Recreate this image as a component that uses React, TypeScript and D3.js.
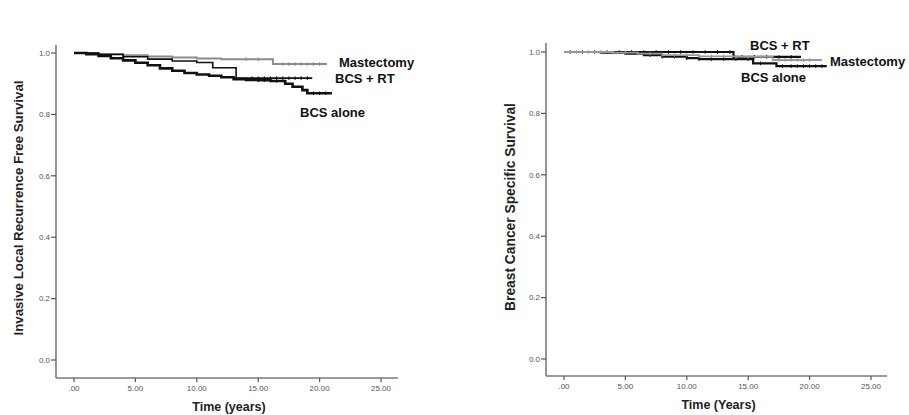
import React from "react";
import * as d3 from "d3";

// ---- Data ----
const xTicks = [0, 5, 10, 15, 20, 25];
const yTicks = [0, 0.2, 0.4, 0.6, 0.8, 1.0];

// Left panel: Invasive local recurrence free survival
const leftMastectomy: [number, number][] = [
  [0, 1], [2, 0.997], [4, 0.993], [6, 0.989], [8, 0.985], [10, 0.982], [12, 0.98], [16.2, 0.964], [20.6, 0.964],
];
const leftBcsRt: [number, number][] = [
  [0, 1], [2, 0.995], [4, 0.988], [6, 0.98], [8, 0.974], [10, 0.969], [11.3, 0.952], [13.2, 0.918], [19.4, 0.918],
];
const leftBcsAlone: [number, number][] = [
  [0, 1], [1, 0.996], [2, 0.99], [3, 0.983], [4, 0.976], [5, 0.968], [6, 0.96], [7, 0.95], [8, 0.942],
  [9, 0.935], [10, 0.93], [11, 0.926], [12, 0.921], [13, 0.915], [14, 0.912], [15, 0.911], [16, 0.909],
  [17.2, 0.9], [17.8, 0.89], [18.6, 0.879], [19, 0.869], [21, 0.869],
];
const leftCensorMast = [14, 15, 17, 17.5, 18, 18.5, 19, 19.5, 20];
const leftCensorRt = [14.5, 15, 15.5, 16, 16.5, 17, 17.5, 18, 18.5, 19];
const leftCensorAlone = [15, 15.5, 16.5, 19.5, 20, 20.5];

// Right panel: Breast cancer specific survival
const rightMastectomy: [number, number][] = [
  [0, 1], [4, 0.998], [6, 0.995], [8, 0.99], [11, 0.986], [14, 0.984], [17, 0.974], [21, 0.974],
];
const rightBcsRt: [number, number][] = [
  [0, 1], [13.8, 0.984], [19.3, 0.984],
];
const rightBcsAlone: [number, number][] = [
  [0, 1], [3, 0.998], [5, 0.995], [6.5, 0.99], [8, 0.985], [10, 0.98], [11, 0.977], [15.4, 0.963], [17.3, 0.954], [21.4, 0.954],
];
const rightCensorMast = [1, 2, 3, 4, 5, 6, 7, 8, 9, 10, 11, 12, 13, 14, 15, 16, 17.5, 18, 18.5, 19, 19.5, 20];
const rightCensorRt = [0.5, 1.5, 2.5, 3.5, 4.5, 5.5, 6.5, 7.5, 8.5, 9.5, 10.5, 11.5, 12.5, 13.5, 14.5, 15.5, 16.5, 17.5, 18.5];
const rightCensorAlone = [7, 8, 9, 10, 11, 12, 13, 14, 15, 16, 17.8, 18.5, 19, 19.5, 20, 20.5, 21];

const FONT = "'Liberation Sans', Arial, Helvetica, sans-serif";

type Series = {
  name: string;
  data: [number, number][];
  censor: number[];
  color: string;
  width: number;
};

type Label = { text: string; x: number; y: number };

type PanelProps = {
  x0: number;
  x25: number;
  yTop: number;
  yBottom: number;
  axisX: number;
  axisY: number;
  axisRight: number;
  axisTop: number;
  series: Series[];
  labels: Label[];
  xTitle: string;
  yTitle: string;
  yTitleX: number;
  yTitleY: number;
  yTitleSize: number;
};

function stepValue(data: [number, number][], t: number) {
  let v = data[0][1];
  for (const [tt, vv] of data) {
    if (tt <= t) v = vv;
  }
  return v;
}

function Panel(p: PanelProps) {
  const x = d3.scaleLinear().domain([0, 25]).range([p.x0, p.x25]);
  const y = d3.scaleLinear().domain([0, 1]).range([p.yBottom, p.yTop]);
  const line = d3
    .line<[number, number]>()
    .x((d) => x(d[0]))
    .y((d) => y(d[1]))
    .curve(d3.curveStepAfter);
  const axisColor = "#7a7a7a";
  return (
    <g>
      <line x1={p.axisX} x2={p.axisX} y1={p.axisTop} y2={p.axisY} stroke={axisColor} strokeWidth={1.6} />
      <line x1={p.axisX} x2={p.axisRight} y1={p.axisY} y2={p.axisY} stroke={axisColor} strokeWidth={1.6} />
      {yTicks.map((t) => (
        <g key={"y" + t}>
          <line x1={p.axisX - 5} x2={p.axisX} y1={y(t)} y2={y(t)} stroke="#555" strokeWidth={1.2} />
          <text x={p.axisX - 6} y={y(t)} dy="0.35em" textAnchor="end" fontSize={8} fill="#555" fontFamily={FONT}>
            {t.toFixed(1)}
          </text>
        </g>
      ))}
      {xTicks.map((t) => (
        <g key={"x" + t}>
          <line x1={x(t)} x2={x(t)} y1={p.axisY} y2={p.axisY + 4} stroke="#555" strokeWidth={1.2} />
          <text x={x(t)} y={p.axisY + 13} textAnchor="middle" fontSize={8} fill="#555" fontFamily={FONT}>
            {t === 0 ? ".00" : t.toFixed(2)}
          </text>
        </g>
      ))}
      <text
        x={(p.axisX + p.axisRight) / 2 + 2}
        y={p.axisY + 33}
        textAnchor="middle"
        fontSize={12.5}
        fontWeight="bold"
        fill="#222"
        fontFamily={FONT}
      >
        {p.xTitle}
      </text>
      <text
        transform={`translate(${p.yTitleX},${p.yTitleY}) rotate(-90)`}
        textAnchor="middle"
        fontSize={p.yTitleSize}
        fontWeight="bold"
        fill="#222"
        fontFamily={FONT}
      >
        {p.yTitle}
      </text>
      {p.series.map((s) => (
        <g key={s.name}>
          <path d={line(s.data) || ""} fill="none" stroke={s.color} strokeWidth={s.width} />
          {s.censor.map((c, i) => {
            const v = stepValue(s.data, c);
            return (
              <line
                key={i}
                x1={x(c)}
                x2={x(c)}
                y1={y(v) - 1.8}
                y2={y(v) + 1.8}
                stroke={s.color}
                strokeWidth={1}
              />
            );
          })}
        </g>
      ))}
      {p.labels.map((l) => (
        <text
          key={l.text}
          x={l.x}
          y={l.y}
          dy="0.35em"
          fontSize={13}
          fontWeight="bold"
          fill="#111"
          fontFamily={FONT}
        >
          {l.text}
        </text>
      ))}
    </g>
  );
}

export default function App() {
  const leftSeries: Series[] = [
    { name: "Mastectomy", data: leftMastectomy, censor: leftCensorMast, color: "#8c8c8c", width: 2 },
    { name: "BCS alone", data: leftBcsAlone, censor: leftCensorAlone, color: "#111", width: 2.6 },
    { name: "BCS + RT", data: leftBcsRt, censor: leftCensorRt, color: "#111", width: 1.6 },
  ];
  const rightSeries: Series[] = [
    { name: "BCS alone", data: rightBcsAlone, censor: rightCensorAlone, color: "#111", width: 2.2 },
    { name: "BCS + RT", data: rightBcsRt, censor: rightCensorRt, color: "#111", width: 2.2 },
    { name: "Mastectomy", data: rightMastectomy, censor: rightCensorMast, color: "#9a9a9a", width: 1.8 },
  ];
  return (
    <svg
      width={909}
      height={415}
      style={{ position: "absolute", left: 0, top: 0, background: "#fff" }}
    >
      <rect width={909} height={415} fill="#fff" />
      <Panel
        x0={74}
        x25={381}
        yTop={53}
        yBottom={360}
        axisX={56}
        axisY={378}
        axisRight={398}
        axisTop={45}
        series={leftSeries}
        labels={[
          { text: "Mastectomy", x: 339, y: 62 },
          { text: "BCS + RT", x: 335, y: 78 },
          { text: "BCS alone", x: 300, y: 112 },
        ]}
        xTitle="Time (years)"
        yTitle="Invasive Local Recurrence Free Survival"
        yTitleX={22.5}
        yTitleY={208}
        yTitleSize={13.3}
      />
      <Panel
        x0={564}
        x25={871}
        yTop={52}
        yBottom={359}
        axisX={546}
        axisY={376}
        axisRight={887}
        axisTop={43}
        series={rightSeries}
        labels={[
          { text: "BCS + RT", x: 750, y: 45 },
          { text: "Mastectomy", x: 830, y: 61 },
          { text: "BCS alone", x: 741, y: 77 },
        ]}
        xTitle="Time (Years)"
        yTitle="Breast Cancer Specific Survival"
        yTitleX={515}
        yTitleY={207}
        yTitleSize={13.8}
      />
    </svg>
  );
}
